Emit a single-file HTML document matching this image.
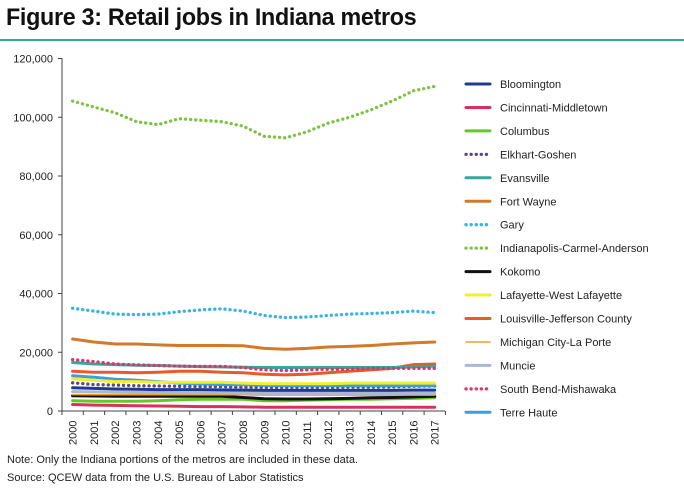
<!DOCTYPE html>
<html><head><meta charset="utf-8"><style>
body{margin:0;width:684px;height:504px;background:#fff;overflow:hidden;font-family:"Liberation Sans",sans-serif}
#t{position:absolute;left:6px;top:4px;font:bold 24px "Liberation Sans",sans-serif;color:#111;letter-spacing:-0.3px;transform:scaleX(0.97);transform-origin:0 0}
#hr{position:absolute;left:0;top:39px;width:684px;height:1.5px;background:#3aa59a}
.n{position:absolute;left:7px;font-size:11px;color:#222}
</style></head><body>
<div id="t">Figure 3: Retail jobs in Indiana metros</div>
<div id="hr"></div>
<svg id="s" width="684" height="504" style="position:absolute;left:0;top:0"></svg>
<div class="n" style="top:454px">Note: Only the Indiana portions of the metros are included in these data.</div>
<div class="n" style="top:472px">Source: QCEW data from the U.S. Bureau of Labor Statistics</div>
<script>
var s=document.getElementById('s'),h='';
var y0=411,sc=352.5/120;function Y(v){return y0-v*sc}
function X(i){return 72.6+i*21.3}
h+='<line x1="62" y1="58" x2="62" y2="411" stroke="#444" stroke-width="1"/>';
h+='<line x1="58" y1="411" x2="445" y2="411" stroke="#444" stroke-width="1"/>';
for(var k=0;k<=6;k++){var y=Y(k*20);h+='<line x1="58" y1="'+y+'" x2="62" y2="'+y+'" stroke="#444"/>';
h+='<text x="53" y="'+(y+4)+'" text-anchor="end" font-size="11" fill="#222">'+(k?(k*20)+',000':'0')+'</text>';}
for(var i=0;i<=18;i++){var x=62+i*21.3;h+='<line x1="'+x+'" y1="411" x2="'+x+'" y2="415" stroke="#444"/>';}
for(var i=0;i<18;i++){h+='<text transform="translate('+(X(i)+4)+',445) rotate(-90)" font-size="11" fill="#222">'+(2000+i)+'</text>';}
var S=[
["Bloomington","#1f3a93",0,[7.9,7.7,7.5,7.4,7.3,7.3,7.3,7.2,7.1,7,7,7,7,7,7,7,7.1,7.1]],
["Cincinnati-Middletown","#d9305f",0,[2.2,2,1.9,1.8,1.7,1.6,1.5,1.5,1.4,1.3,1.3,1.3,1.3,1.3,1.3,1.3,1.3,1.3]],
["Columbus","#66c72a",0,[3.5,3.3,3.3,3.3,3.5,3.8,4,4,4,3.5,3.5,3.7,3.8,4,4,4.2,4.3,4.5]],
["Elkhart-Goshen","#5b4a7e",1,[9.6,9,8.8,8.6,8.5,8.4,8.3,8.3,8.1,8,8,8,8,8.1,8.1,8.2,8.4,8.5]],
["Evansville","#35a79c",0,[16.5,16,15.8,15.6,15.5,15.3,15.1,15,14.9,14.8,14.8,14.8,14.8,14.8,14.8,14.8,15,15.3]],
["Fort Wayne","#d17a2a",0,[24.5,23.5,22.8,22.8,22.5,22.3,22.3,22.3,22.2,21.3,21,21.3,21.8,22,22.3,22.8,23.2,23.5]],
["Gary","#38b3e6",1,[35,34,33,32.8,33,33.8,34.4,34.8,34,32.5,31.8,32,32.5,33,33.2,33.5,34,33.5]],
["Indianapolis-Carmel-Anderson","#7dc242",1,[105.5,103.5,101.5,98.5,97.5,99.5,99,98.5,97,93.5,93,95,98,100,102.5,105.5,109,110.5]],
["Kokomo","#111111",0,[5.2,5.1,5,5,5,5,5,5,4.6,4.2,4.1,4.1,4.2,4.3,4.5,4.6,4.8,5]],
["Lafayette-West Lafayette","#f2ee30",0,[11,10.5,10,10,9.8,9.8,9.8,9.8,9.5,9.3,9.3,9.3,9.3,9.5,9.5,9.5,9.5,9.5]],
["Louisville-Jefferson County","#e85a2a",0,[13.5,13.2,13.2,13,13.2,13.5,13.5,13.2,13,12.5,12.3,12.5,13,13.5,14,14.5,15.8,16]],
["Michigan City-La Porte","#f0a030",0,[5.6,5.5,5.5,5.5,5.5,5.5,5.5,5.5,5.5,5.4,5.4,5.4,5.4,5.4,5.4,5.4,5.4,5.4]],
["Muncie","#a9b8d6",0,[6.6,6.5,6.4,6.3,6.3,6.2,6.2,6.2,6.1,6,6,6,6,6,6,6,6,6]],
["South Bend-Mishawaka","#e0336b",1,[17.5,16.8,16,15.7,15.5,15.3,15.2,15.2,14.8,14,13.8,14,14.2,14.2,14.5,14.5,14.5,14.5]],
["Terre Haute","#3a9fdc",0,[12,11.5,10.8,10.5,10,9.5,9.2,9,9,8.7,8.6,8.6,8.6,8.6,8.6,8.6,8.6,8.6]]];
var draw=[1,2,8,11,12,0,3,14,9,10,4,13,5,6,7];
draw.forEach(function(j){var d=S[j],p='';d[3].forEach(function(v,i){p+=(i?'L':'M')+X(i).toFixed(1)+' '+Y(v).toFixed(1)});
var w=j==11?1.5:(d[2]?3.3:3);h+='<path d="'+p+'" fill="none" stroke="'+d[1]+'" stroke-width="'+w+'" stroke-linejoin="round" stroke-linecap="round"'+(d[2]?' stroke-dasharray="0.1 5"':'')+'/>';});
S.forEach(function(d,i){var y=84+i*23.45,w=i==11?1.5:(d[2]?3.3:3);
h+='<line x1="466" y1="'+y+'" x2="490" y2="'+y+'" stroke="'+d[1]+'" stroke-width="'+w+'" stroke-linecap="round"'+(d[2]?' stroke-dasharray="0.1 5"':'')+'/>';
h+='<text x="500" y="'+(y+4)+'" font-size="11" fill="#222">'+d[0]+'</text>';});
s.innerHTML=h;
</script>
</body></html>
